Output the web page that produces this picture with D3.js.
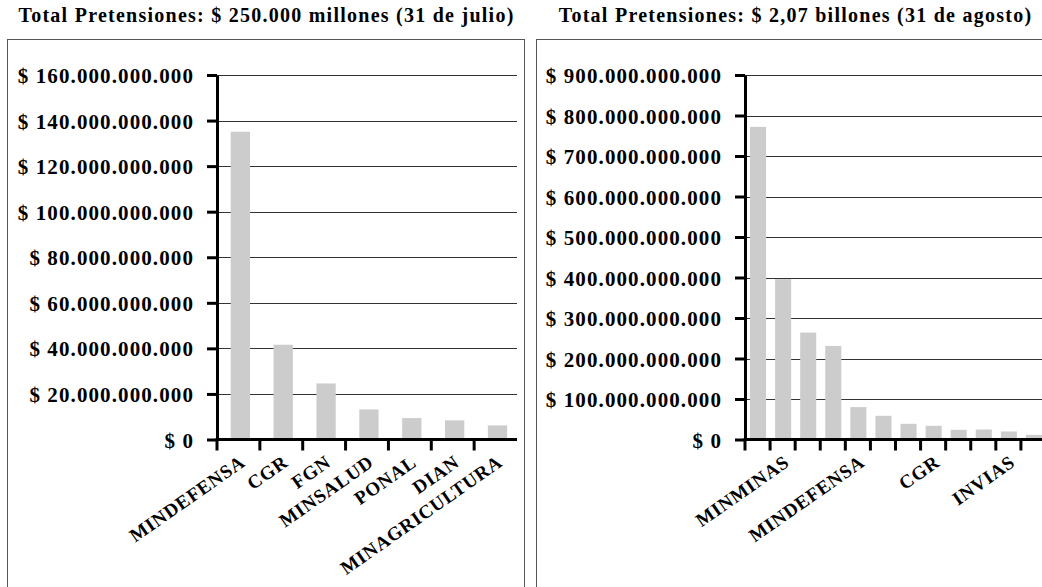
<!DOCTYPE html>
<html>
<head>
<meta charset="utf-8">
<script src="https://cdn.jsdelivr.net/npm/d3@7"></script>
<style>
  html, body { margin: 0; padding: 0; background: #fff; }
  svg { display: block; }
  text { font-family: "Liberation Serif", serif; font-weight: bold; fill: #000; }
</style>
</head>
<body>
<svg id="chart" width="1042" height="587"></svg>
<script>
// ---- data ----
const julioCategories = ["MINDEFENSA", "CGR", "FGN", "MINSALUD", "PONAL", "DIAN", "MINAGRICULTURA"];
const julioValues = [135.1e9, 41.6e9, 24.6e9, 13.2e9, 9.4e9, 8.4e9, 6.2e9];
const julioTicks = [0, 20e9, 40e9, 60e9, 80e9, 100e9, 120e9, 140e9, 160e9];
const julioTitle = "Total Pretensiones: $ 250.000 millones (31 de julio)";

const agostoLabels = ["", "MINMINAS", "", "", "MINDEFENSA", "", "", "CGR", "", "", "INVIAS", ""];
const agostoValues = [772e9, 396e9, 264e9, 231e9, 80e9, 58.5e9, 38.7e9, 33.8e9, 23.9e9, 24.7e9, 19.8e9, 11.5e9];
const agostoTicks = [0, 100e9, 200e9, 300e9, 400e9, 500e9, 600e9, 700e9, 800e9, 900e9];
const agostoTitle = "Total Pretensiones: $ 2,07 billones (31 de agosto)";

const locale = d3.formatLocale({decimal: ",", thousands: ".", grouping: [3], currency: ["$ ", ""]});
const fmt = locale.format("$,.0f");

const svg = d3.select("#chart");
const FONT = '"Liberation Serif", serif';

function styleText(sel, size, ls) {
  sel.style("font-family", FONT).style("font-weight", "bold")
     .style("font-size", size + "px").style("letter-spacing", ls + "px");
}

function drawPanel(o) {
  const g = svg.append("g");
  // panel border
  g.append("rect")
    .attr("x", o.boxX + 0.5).attr("y", 39.5)
    .attr("width", o.boxW).attr("height", 600)
    .attr("fill", "none").attr("stroke", "#555").attr("stroke-width", 1);
  // title
  g.append("text")
    .attr("x", o.boxX + o.boxW / 2 + 1).attr("y", 22)
    .attr("text-anchor", "middle")
    .call(styleText, 20, 1.25)
    .text(o.title);

  const y = d3.scaleLinear().domain([0, d3.max(o.ticks)]).range([439.5, 75]);
  const keys = o.values.map((d, i) => i);
  const xb = d3.scaleBand().domain(keys).range([o.x0, o.x1]).padding(0);
  const bw = xb.bandwidth();

  // gridlines
  g.append("g").selectAll("line").data(o.ticks.slice(1)).join("line")
    .attr("x1", o.x0).attr("x2", o.x1)
    .attr("y1", d => Math.round(y(d)) + 0.5).attr("y2", d => Math.round(y(d)) + 0.5)
    .attr("stroke", "#333").attr("stroke-width", 1);

  // bars
  g.append("g").selectAll("rect").data(o.values).join("rect")
    .attr("x", (d, i) => xb(i) + bw * o.barOff)
    .attr("width", bw * o.barW)
    .attr("y", d => y(d))
    .attr("height", d => y(0) - y(d))
    .attr("fill", "#cccccc");

  // y axis
  const ya = d3.axisLeft(y).tickValues(o.ticks).tickFormat(fmt)
    .tickSize(10).tickSizeOuter(0).tickPadding(13);
  const yg = g.append("g").attr("transform", `translate(${o.x0},0)`).call(ya);
  yg.select(".domain").attr("stroke", "#000").attr("stroke-width", 3);
  yg.selectAll(".tick line").attr("stroke", "#000").attr("stroke-width", 3);
  yg.selectAll(".tick text").call(styleText, 21, 1.1).attr("dy", "0.36em");

  // x axis line
  g.append("line")
    .attr("x1", o.x0 - 1.5).attr("x2", o.x1)
    .attr("y1", y(0)).attr("y2", y(0))
    .attr("stroke", "#000").attr("stroke-width", 3);
  // x ticks at band boundaries
  g.append("g").selectAll("line").data(keys).join("line")
    .attr("x1", d => xb(d)).attr("x2", d => xb(d))
    .attr("y1", y(0)).attr("y2", y(0) + 11)
    .attr("stroke", "#000").attr("stroke-width", 3);
  // x labels
  g.append("g").selectAll("text").data(keys).join("text")
    .attr("transform", d => `translate(${xb(d) + bw / 2 + 8},465) rotate(-35)`)
    .attr("text-anchor", "end")
    .call(styleText, 19, 0.8)
    .text(d => o.labels[d]);
}

drawPanel({
  boxX: 7, boxW: 517, title: julioTitle,
  x0: 217, x1: 517,
  values: julioValues, labels: julioCategories, ticks: julioTicks,
  barOff: 0.32, barW: 0.45
});
drawPanel({
  boxX: 536, boxW: 517, title: agostoTitle,
  x0: 745, x1: 1046,
  values: agostoValues, labels: agostoLabels, ticks: agostoTicks,
  barOff: 0.2, barW: 0.64
});
</script>
</body>
</html>
